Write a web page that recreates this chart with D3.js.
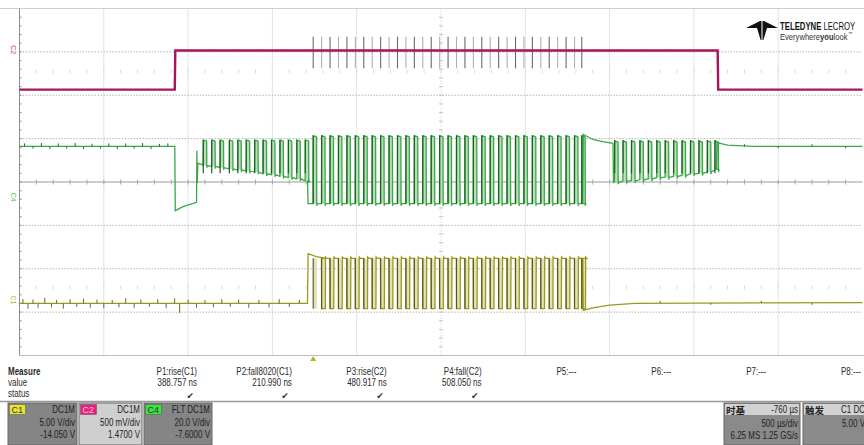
<!DOCTYPE html>
<html>
<head>
<meta charset="utf-8">
<script src="https://cdn.jsdelivr.net/npm/d3@7"></script>
<style>
  body { margin:0; background:#fff; }
  svg { display:block; font-family:"Liberation Sans Narrow","Arial Narrow","Liberation Sans",sans-serif; }
</style>
</head>
<body>
<div id="chart"></div>
<script>
// all levels in screen divisions, times in ms (500 us/div, 10 div)
var c2Trace = [[0,2.13],[0.921,2.13],[0.924,3.03],[4.141,3.03],[4.144,2.13],[5,2.13]];
var c2Spike = [2.62, 3.35];

var burstA = [1.09,1.14,1.19,1.245,1.295,1.345,1.395,1.445,1.495,1.545,1.595,1.645,1.695];
var burstABase = [0.38,0.36,0.33,0.30,0.28,0.25,0.23,0.19,0.17,0.13,0.10,0.07,0.03];
var burstB = [1.742,1.792,1.842,1.892,1.942,1.992,2.042,2.092,2.142,2.192,2.242,2.292,2.342,2.392,2.442,2.492,2.542,
              2.592,2.642,2.692,2.742,2.792,2.842,2.892,2.942,2.992,3.042,3.092,3.142,3.192,3.242,3.292,3.335];
var burstC = [3.53,3.58,3.63,3.68,3.73,3.78,3.83,3.88,3.93,3.98,4.03,4.08,4.125];
var burstCBase = [0.00,0.02,0.03,0.05,0.07,0.10,0.11,0.13,0.15,0.19,0.20,0.23,0.28];

var c4Before = [[0,0.82],[0.921,0.82],[0.924,-0.66],[0.97,-0.57],[1.05,-0.47],[1.052,0.72],[1.054,-0.03],[1.058,0.43],[1.085,0.40]];
var c4Mid = [[1.708,0.02],[1.712,-0.50]];
var c4After = [[3.341,-0.50],[3.344,1.10],[3.40,0.98],[3.46,0.93],[3.52,0.89],[3.523,-0.01]];
var c4End = [[4.134,0.30],[4.137,0.91],[4.2,0.85],[4.35,0.82],[5,0.82]];
var c4TopA = 0.97, c4TopB = 1.07, c4TopC = 0.95, c4LowB = -0.50;
var c4Noise = [[0.03,0.07],[0.08,-0.05],[0.13,0.08],[0.18,-0.06],[0.23,0.07],[0.28,-0.05],[0.33,0.08],[0.38,-0.06],
               [0.43,0.06],[0.48,-0.05],[0.53,0.07],[0.58,-0.06],[0.63,0.07],[0.68,-0.05],[0.73,0.08],[0.78,-0.06],[0.83,0.06],[0.88,0.07],
               [4.3,0.05],[4.5,-0.04],[4.7,0.05],[4.9,-0.04]];

var c1Before = [[0,-2.80],[1.708,-2.80],[1.712,-1.65],[1.76,-1.72],[1.82,-1.76]];
var c1After = [[3.341,-1.76],[3.344,-2.96],[3.40,-2.90],[3.50,-2.84],[3.65,-2.80],[5,-2.78]];
var c1High = -1.76, c1Low = -2.92;
var c1Noise = [[0.02,0.10],[0.05,-0.12],[0.08,0.09],[0.11,-0.10],[0.15,0.13],[0.19,-0.09],[0.22,0.08],[0.26,-0.12],[0.30,0.10],
               [0.34,-0.08],[0.38,0.11],[0.42,-0.10],[0.46,0.09],[0.50,-0.11],[0.55,0.08],[0.59,-0.09],[0.63,0.12],[0.68,-0.10],
               [0.72,0.09],[0.77,-0.08],[0.82,0.10],[0.87,-0.11],[0.92,0.12],[0.95,-0.22],[1.0,0.09],[1.05,-0.10],[1.10,0.08],
               [1.15,-0.09],[1.20,0.10],[1.25,-0.08],[1.30,0.09],[1.36,-0.10],[1.42,0.08],[1.48,-0.09],[1.54,0.10],[1.60,-0.08],[1.66,0.08],
               [3.8,0.05],[4.1,-0.04],[4.4,0.05],[4.7,-0.04]];

var measureNames = ["P1:rise(C1)","P2:fall8020(C1)","P3:rise(C2)","P4:fall(C2)","P5:---","P6:---","P7:---","P8:---"];
var measureValues = ["388.757 ns","210.990 ns","480.917 ns","508.050 ns","","","",""];
var measureOk = [true,true,true,true,false,false,false,false];

var channels = [
  {name:"C1", coupling:"DC1M", scale:"5.00 V/div", offset:"-14.050 V", tag:"#e4e43a", tagText:"#333", bg:"#858585"},
  {name:"C2", coupling:"DC1M", scale:"500 mV/div", offset:"1.4700 V", tag:"#e8207e", tagText:"#f7c6dc", bg:"#cfcfcf"},
  {name:"C4", coupling:"FLT  DC1M", scale:"20.0 V/div", offset:"-7.6000 V", tag:"#3fe03f", tagText:"#224422", bg:"#858585"}
];

var width = 864, height = 445;
var svg = d3.select("#chart").append("svg").attr("width", width).attr("height", height);

var x = d3.scaleLinear().domain([0,5]).range([19.5,862.5]);
var y = d3.scaleLinear().domain([-4,4]).range([355.5,8.5]);
var line = d3.line().x(function(d){ return x(d[0]); }).y(function(d){ return y(d[1]); });

// condensed text (no narrow font available)
function ctext(parent, px, py, str, anchor, sx){
  return parent.append("text")
    .attr("transform", "translate(" + px + "," + py + ") scale(" + (sx || 0.8) + ",1)")
    .attr("text-anchor", anchor || "start").text(str);
}

// ---- grid
var grid = svg.append("g");
grid.selectAll(".vg").data(d3.range(0.5,5,0.5)).enter().append("line")
  .attr("x1", function(d){ return x(d); }).attr("x2", function(d){ return x(d); })
  .attr("y1", y(4)).attr("y2", y(-4))
  .attr("stroke", function(d){ return d === 2.5 ? "#c8c8c8" : "#e2e2e2"; })
  .attr("stroke-dasharray", function(d){ return d === 2.5 ? "1,2" : null; });
grid.selectAll(".hg").data([-3,-2,-1,1,2,3]).enter().append("line")
  .attr("x1", x(0)).attr("x2", x(5)).attr("y1", function(d){ return y(d); }).attr("y2", function(d){ return y(d); })
  .attr("stroke", "#b4b4b4").attr("stroke-dasharray", "1.5,1.5");
grid.append("line").attr("x1", x(0)).attr("x2", x(5)).attr("y1", y(0)).attr("y2", y(0)).attr("stroke", "#9a9a9a");
grid.selectAll(".ht").data(d3.range(0.1,5,0.1)).enter().append("line")
  .attr("x1", function(d){ return x(d); }).attr("x2", function(d){ return x(d); })
  .attr("y1", y(0)-2.5).attr("y2", y(0)+2.5).attr("stroke", "#a8a8a8");
grid.selectAll(".vt").data(d3.range(-3.8,4,0.2)).enter().append("line")
  .attr("x1", x(2.5)-2).attr("x2", x(2.5)+2)
  .attr("y1", function(d){ return y(d); }).attr("y2", function(d){ return y(d); }).attr("stroke", "#c4c4c4");
// faint ghost tick rows
[2.55,-2.43].forEach(function(lv){
  grid.selectAll(null).data(d3.range(0.1,5,0.1)).enter().append("line")
    .attr("x1", function(d){ return x(d); }).attr("x2", function(d){ return x(d); })
    .attr("y1", y(lv)-2).attr("y2", y(lv)+2).attr("stroke", "#dcdcdc");
});
grid.append("line").attr("x1", 0).attr("x2", width).attr("y1", y(4)).attr("y2", y(4)).attr("stroke", "#cfcfcf");
grid.append("line").attr("x1", x(0)).attr("x2", width).attr("y1", y(-4)).attr("y2", y(-4)).attr("stroke", "#bdbdbd");
grid.append("line").attr("x1", x(0)).attr("x2", x(0)).attr("y1", y(4)).attr("y2", y(-4)).attr("stroke", "#8c8c8c");
grid.selectAll(".lt").data(d3.range(-3.8,4,0.2)).enter().append("line")
  .attr("x1", x(0)).attr("x2", x(0)+2)
  .attr("y1", function(d){ return y(d); }).attr("y2", function(d){ return y(d); }).attr("stroke", "#8c8c8c");

// ---- pulse helpers
function pulsePath(times, base, top, w){
  var pts = [];
  times.forEach(function(t,i){
    var b = Array.isArray(base) ? base[i] : base;
    pts.push([t-0.001,b],[t,top],[t+w,top-0.03],[t+w+0.001,b-0.05],[t+w+0.004,b]);
  });
  return pts;
}

// ---- C2 magenta
var c2 = svg.append("g");
c2.selectAll(".sp").data(burstB).enter().append("line")
  .attr("x1", function(d){ return x(d); }).attr("x2", function(d){ return x(d); })
  .attr("y1", y(c2Spike[1])).attr("y2", y(c2Spike[0]))
  .attr("stroke", function(d,i){ return i % 2 ? "#b0b0b0" : "#6a6a6a"; }).attr("stroke-width", 1.1);
c2.append("path").datum(c2Trace).attr("d", line).attr("fill","none").attr("stroke","#a8155a").attr("stroke-width",2.4);

// ---- C4 green
var g4 = svg.append("g");
var pw = 0.02;
function fills(times, base, top, col){
  g4.selectAll(null).data(times).enter().append("rect")
    .attr("x", function(d){ return x(d); }).attr("width", x(pw)-x(0))
    .attr("y", y(top))
    .attr("height", function(d,i){ var b = Array.isArray(base) ? base[i] : base; return y(b)-y(top); })
    .attr("fill", col);
}
fills(burstA, burstABase, c4TopA, "#b9dfb9");
fills(burstB, c4LowB, c4TopB, "#b9dfb9");
fills(burstC, burstCBase, c4TopC, "#b9dfb9");
var c4Pts = c4Before.concat(pulsePath(burstA, burstABase, c4TopA, pw), c4Mid,
  pulsePath(burstB, c4LowB, c4TopB, pw), c4After, pulsePath(burstC, burstCBase, c4TopC, pw), c4End);
g4.append("path").datum(c4Pts).attr("d", line).attr("fill","none").attr("stroke","#3aa845").attr("stroke-width",1.3);
g4.selectAll(".ed").data(burstA.concat(burstB, burstC)).enter().append("line")
  .attr("x1", function(d){ return x(d); }).attr("x2", function(d){ return x(d); })
  .attr("y1", function(d){ return y(burstB.indexOf(d) >= 0 ? c4TopB : 0.96); })
  .attr("y2", function(d){ return y(burstB.indexOf(d) >= 0 ? c4LowB : 0.2); })
  .attr("stroke", "#1f5e28").attr("stroke-width", 1.2);
g4.selectAll(".nz").data(c4Noise).enter().append("line")
  .attr("x1", function(d){ return x(d[0]); }).attr("x2", function(d){ return x(d[0]); })
  .attr("y1", y(0.82)).attr("y2", function(d){ return y(0.82 + d[1]); })
  .attr("stroke", "#1f6e2a").attr("stroke-width", 1);

// ---- C1 yellow
var g1 = svg.append("g");
g1.selectAll(null).data(burstB).enter().append("rect")
  .attr("x", function(d){ return x(d); }).attr("width", x(0.022)-x(0))
  .attr("y", y(c1High)).attr("height", y(c1Low)-y(c1High)).attr("fill", "#e2e2b8");
var c1Pts = c1Before.slice();
burstB.slice(1).forEach(function(t){
  c1Pts.push([t-0.001,c1High],[t,c1Low],[t+0.022,c1Low],[t+0.023,c1High+0.03],[t+0.03,c1High]);
});
c1Pts = c1Pts.concat(c1After);
g1.append("path").datum(c1Pts).attr("d", line).attr("fill","none").attr("stroke","#9a9a22").attr("stroke-width",1.3);
g1.selectAll(".ed").data(burstB).enter().append("line")
  .attr("x1", function(d){ return x(d); }).attr("x2", function(d){ return x(d); })
  .attr("y1", y(c1High)).attr("y2", y(c1Low)).attr("stroke", "#55551a").attr("stroke-width", 1.1);
g1.selectAll(".nz").data(c1Noise).enter().append("line")
  .attr("x1", function(d){ return x(d[0]); }).attr("x2", function(d){ return x(d[0]); })
  .attr("y1", function(d){ return y(d[0] < 2 ? -2.80 : -2.79); }).attr("y2", function(d){ return y((d[0] < 2 ? -2.80 : -2.79) + d[1]); })
  .attr("stroke", "#6b6b18").attr("stroke-width", 1);

// ---- channel markers on left
[["C2",3.05,"#c03a8a"],["C4",-0.35,"#4cc04c"],["C1",-2.72,"#b8b83a"]].forEach(function(m){
  svg.append("text").attr("transform","translate(11,"+y(m[1])+") rotate(90)")
    .attr("text-anchor","middle").attr("font-size",7).attr("fill",m[2]).text(m[0]);
});

// trigger marker
svg.append("path").attr("d","M"+(x(1.742)-3)+",361 L"+(x(1.742)+3)+",361 L"+x(1.742)+",356 Z").attr("fill","#b5b52a");

// ---- logo
var logo = svg.append("g");
logo.append("path").attr("d","M746,28 L760,21 L764,21 L778,28 L767,28 L763.4,40 L760.6,40 L757,28 Z").attr("fill","#111");
logo.append("line").attr("x1",762).attr("x2",762).attr("y1",21).attr("y2",40).attr("stroke","#fff").attr("stroke-width",1);
// pieces laid side by side, each condensed; p[2] = gap before the piece
function logoRow(parts, px, py, size, sx, col){
  var cur = px;
  parts.forEach(function(p){
    cur += p[2] || 0;
    var t = ctext(logo, cur, py, p[0], "start", sx).attr("font-size", size).attr("fill", col)
      .attr("font-weight", p[1] ? "bold" : "normal");
    cur += t.node().getComputedTextLength() * sx;
  });
  return cur;
}
logoRow([["TELEDYNE",1],["LECROY",0,2]], 780, 30, 10.5, 0.74, "#111");
var endX = logoRow([["Everywhere",0],["you",1],["look",0]], 780, 40, 9.5, 0.8, "#333");
logo.append("text").attr("x", endX + 0.5).attr("y",35).attr("font-size",4.5).attr("fill","#333").text("™");

// ---- measure table
var mt = svg.append("g").attr("font-size",10).attr("fill","#2a2a2a");
ctext(mt, 8, 375, "Measure").attr("font-weight","bold");
ctext(mt, 8, 386, "value");
ctext(mt, 8, 397, "status");
var colX = d3.scalePoint().domain(measureNames).range([197,861]);
measureNames.forEach(function(n,i){
  var cx = colX(n);
  ctext(mt, cx, 375, n, "end");
  if (measureValues[i]) ctext(mt, cx, 386, measureValues[i], "end");
  if (measureOk[i]) mt.append("text").attr("x",cx-3).attr("y",398.5).attr("text-anchor","end")
    .attr("font-family","DejaVu Sans").attr("font-size",9).attr("fill","#333").text("\u2714");
});
svg.append("line").attr("x1",0).attr("x2",width).attr("y1",401.5).attr("y2",401.5).attr("stroke","#999").attr("stroke-width",1.5);

// ---- channel boxes
var boxX = [8,79,144], boxW = [69,63,68];
channels.forEach(function(c,i){
  var g = svg.append("g").attr("transform","translate("+boxX[i]+",403)").attr("font-size",10).attr("fill","#222");
  g.append("rect").attr("width",boxW[i]).attr("height",42).attr("fill",c.bg).attr("stroke","#666");
  g.append("rect").attr("x",1.5).attr("y",1.5).attr("width",16).attr("height",10).attr("fill",c.tag).attr("stroke","#555").attr("stroke-width",0.5);
  g.append("text").attr("x",3.5).attr("y",10).attr("fill",c.tagText).attr("font-size",9).text(c.name);
  ctext(g, boxW[i]-2, 10, c.coupling, "end");
  ctext(g, boxW[i]-2, 23, c.scale, "end");
  ctext(g, boxW[i]-2, 35, c.offset, "end");
});

// timebase + trigger
function infoBox(x0,w,title,right1,line2,line3){
  var g = svg.append("g").attr("transform","translate("+x0+",403)").attr("font-size",10).attr("fill","#222");
  g.append("rect").attr("width",w).attr("height",42).attr("fill","#8a8a8a").attr("stroke","#666");
  g.append("rect").attr("x",1).attr("y",1).attr("width",w-2).attr("height",11).attr("fill","#d2d2d2");
  g.append("text").attr("x",2).attr("y",10.5).attr("font-family","Noto Sans CJK SC").attr("font-weight","bold").attr("font-size",9.5).text(title);
  ctext(g, w-2, 10, right1, "end");
  ctext(g, w-2, 24, line2, "end");
  if (line3) ctext(g, w-2, 36, line3, "end");
}
infoBox(724,76,"时基","-760 µs","500 µs/div","6.25 MS  1.25 GS/s");
infoBox(803,64,"触发","C1 DC","5.00 V",null);
</script>
</body>
</html>
